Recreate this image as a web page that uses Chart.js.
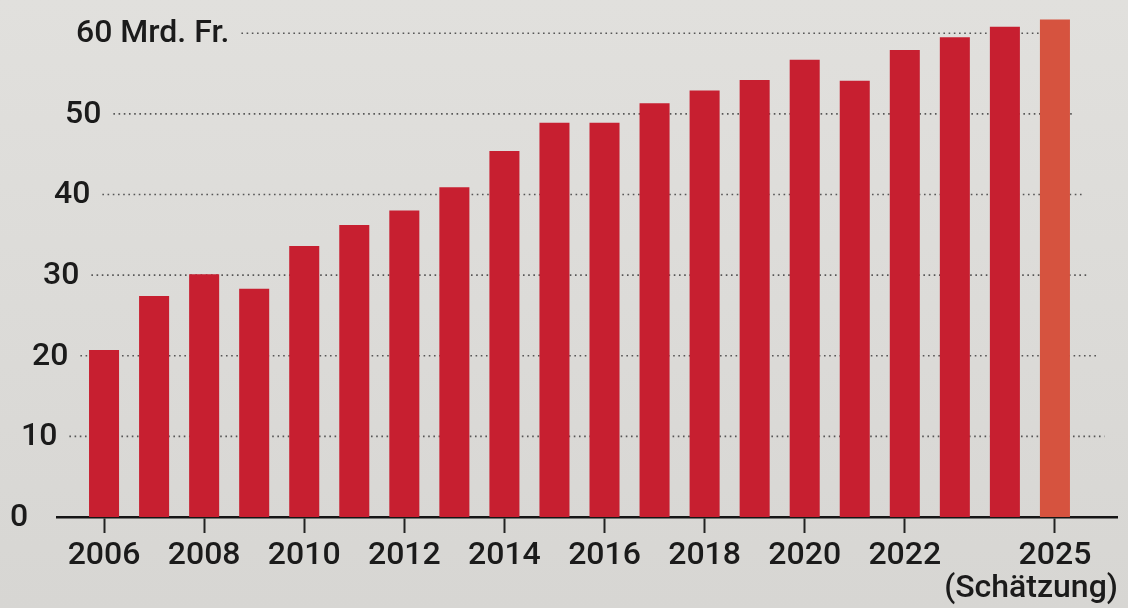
<!DOCTYPE html>
<html>
<head>
<meta charset="utf-8">
<script src="https://cdn.jsdelivr.net/npm/chart.js@4"></script>
<style>
  html, body { margin: 0; padding: 0; background: #dcdbd8; }
  #wrap { width: 1128px; height: 608px; }
</style>
</head>
<body>
<div id="wrap"><canvas id="chart" width="1128" height="608"></canvas></div>
<script>
// Jahre und Werte (Mrd. Fr.)
const years = [2006, 2007, 2008, 2009, 2010, 2011, 2012, 2013, 2014, 2015,
               2016, 2017, 2018, 2019, 2020, 2021, 2022, 2023, 2024, 2025];
const values = [20.7, 27.4, 30.1, 28.3, 33.6, 36.2, 38.0, 40.9, 45.4, 48.9,
                48.9, 51.3, 52.9, 54.2, 56.7, 54.1, 57.9, 59.5, 60.8, 61.7];

// Beschriftungen der Achsen
const tickYears = [2006, 2008, 2010, 2012, 2014, 2016, 2018, 2020, 2022, 2025];
const yTicks = [0, 10, 20, 30, 40, 50, 60];
const yTickLabels = ['0', '10', '20', '30', '40', '50', '60 Mrd. Fr.'];
const estimateYear = 2025;
const estimateNote = '(Schätzung)';

const FONT = '500 32px Roboto, "Liberation Sans", Arial, sans-serif';
const barRed = '#c71f30';
const barEstimate = '#d6533f';

// Hintergrund wie Papier
const paperBackground = {
    id: 'paperBackground',
    beforeDraw(chart) {
        const { ctx, width, height } = chart;
        const g = ctx.createLinearGradient(0, 0, 0, height);
        g.addColorStop(0, '#e1e0dd');
        g.addColorStop(1, '#d7d6d3');
        ctx.save();
        ctx.fillStyle = g;
        ctx.fillRect(0, 0, width, height);
        ctx.restore();
    }
};

// Y-Beschriftung und gepunktete Hilfslinien
const yLabelsAndGrid = {
    id: 'yLabelsAndGrid',
    beforeDatasetsDraw(chart) {
        const { ctx } = chart;
        const yScale = chart.scales.y;
        ctx.save();
        ctx.font = FONT;
        ctx.textBaseline = 'middle';
        ctx.textAlign = 'left';
        yTicks.forEach((v, i) => {
            const y = yScale.getPixelForValue(v);
            const x = 10 + v * 1.1; // leichte Schräge wie im Foto
            ctx.fillStyle = '#1b1b1b';
            ctx.fillText(yTickLabels[i], x, y + 1);
            if (v === 0) return;
            const start = x + ctx.measureText(yTickLabels[i]).width + 12;
            const end = 1112 - v * 0.75;
            ctx.beginPath();
            ctx.setLineDash([1.6, 3.6]);
            ctx.lineWidth = 1.6;
            ctx.strokeStyle = '#555';
            ctx.moveTo(start, y);
            ctx.lineTo(end, y);
            ctx.stroke();
        });
        ctx.restore();
    },
    afterDraw(chart) {
        const { ctx } = chart;
        const xScale = chart.scales.x;
        ctx.save();
        ctx.font = FONT;
        ctx.fillStyle = '#1b1b1b';
        ctx.textAlign = 'right';
        ctx.textBaseline = 'middle';
        ctx.fillText(estimateNote, xScale.right + 1, 589);
        ctx.restore();
    }
};

const ctx = document.getElementById('chart').getContext('2d');
new Chart(ctx, {
    type: 'bar',
    data: {
        datasets: [{
            data: years.map((yr, i) => ({ x: yr, y: values[i] })),
            backgroundColor: c => (c.raw && c.raw.x === estimateYear) ? barEstimate : barRed,
            borderWidth: 0,
            barPercentage: 0.6,
            categoryPercentage: 1
        }]
    },
    options: {
        responsive: false,
        animation: false,
        layout: { padding: { left: 57, right: 11, top: 9, bottom: 0 } },
        plugins: {
            legend: { display: false },
            tooltip: { enabled: false }
        },
        scales: {
            x: {
                type: 'linear',
                min: 2005.06,
                max: 2026.24,
                offset: false,
                z: 1,
                afterBuildTicks: s => { s.ticks = tickYears.map(v => ({ value: v })); },
                afterFit: s => { s.height = 91; },
                ticks: {
                    autoSkip: false,
                    maxRotation: 0,
                    padding: 4,
                    color: '#1b1b1b',
                    font: { family: 'Roboto, "Liberation Sans", Arial, sans-serif', size: 32, weight: '500' },
                    callback: v => String(v)
                },
                grid: {
                    display: true,
                    offset: false,
                    drawOnChartArea: false,
                    drawTicks: true,
                    tickLength: 16,
                    tickWidth: 2,
                    tickColor: '#222'
                },
                border: { display: true, color: '#151515', width: 2.5 }
            },
            y: {
                display: false,
                min: 0,
                max: 63
            }
        }
    },
    plugins: [paperBackground, yLabelsAndGrid]
});
</script>
</body>
</html>
